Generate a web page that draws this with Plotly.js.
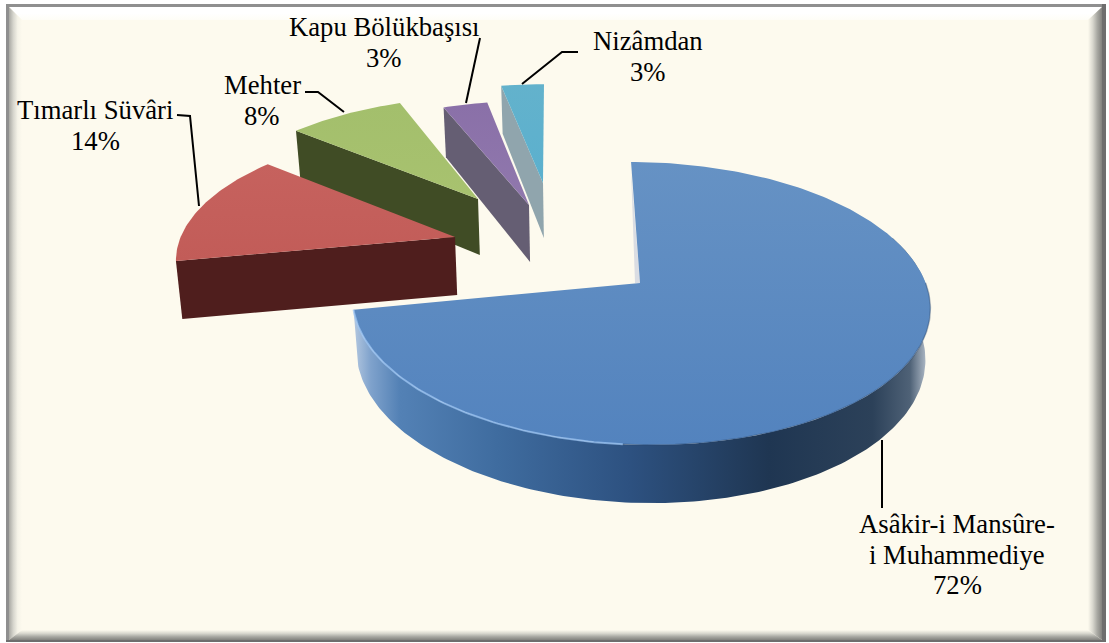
<!DOCTYPE html>
<html><head><meta charset="utf-8">
<script src="https://cdn.plot.ly/plotly-3.0.1.min.js"></script>
<style>html,body{margin:0;padding:0;background:#fff}#c{width:1109px;height:643px}</style>
</head><body><div id="c"></div>
<script>
// ---- data ----
const categories = [["Asâkir-i Mansûre-","i Muhammediye"],["Tımarlı Süvâri"],["Mehter"],["Kapu Bölükbaşısı"],["Nizâmdan"]];
const values = [72,14,8,3,3];

// ---- pie geometry (style, not data): exploded perspective projection of each slice ----
const K=0.145, RX=290, RY=138.5, VANISH=600, VF=0.015;
const geom = [
 {ax:640,ay:283,sx:.985,sy:1,sh:0.074,h:50,hk:0.001,top:['#5383BE','#6692C4'],wall:'#2c4f7d'},
 {ax:455,ay:237,sx:.946,sy:.9,sh:-.086,h:58,hk:0,top:['#C25C58','#C6625E'],wall:'#4F1E1D'},
 {ax:478,ay:199,sx:.919,sy:.845,sh:-.0874,h:56,hk:.0013,top:['#A8C26F','#A3BF6C'],wall:'#404C25'},
 {ax:529,ay:205,sx:.936,sy:.86,sh:-.027,h:57,hk:.0013,top:['#9078AD','#8A70A8'],wall:'#655E73'},
 {ax:543,ay:183,sx:.9,sy:.817,sh:-.01,h:55,hk:.0013,top:['#5BB0CE','#63B2CC'],wall:'#90A5AD'}
];
const labelX = [957,95,262,384,648];
const labelTopY = [524,110,85,27,41];
const lineStep = 30.5;
const leaders = [
 [[882,440],[882,508]],
 [[177,115],[190,116],[199,206]],
 [[305,92],[318,92],[344,112]],
 [[480,38],[466,103]],
 [[578,52],[562,52],[522,84]]
];

// cumulative angles
const total = values.reduce((a,b)=>a+b,0);
let acc=0;
const spans = values.map(v=>{const s=acc; acc+=v; return [s/total*360, acc/total*360];});

function rim(g,deg){
  const t=deg*Math.PI/180,u=Math.sin(t),v=-Math.cos(t),d=1-K*v;
  const Y=g.sy*RY*v/d, X=g.sx*RX*u/d+g.sh*Y;
  return [g.ax+X,g.ay+Y];
}
function drop(g,p){
  return [p[0]+(VANISH-p[0])*VF, p[1]+g.h*(1+g.hk*(p[1]-g.ay))];
}
function arc(g,a,b){
  const pts=[],n=Math.max(2,Math.ceil(Math.abs(b-a)));
  for(let i=0;i<=n;i++)pts.push(rim(g,a+(b-a)*i/n));
  return pts;
}
function poly(pts,name,extra){
  const closed=pts.concat([pts[0]]);
  return Object.assign({type:'scatter',mode:'lines',name:name,x:closed.map(p=>p[0]),y:closed.map(p=>p[1]),
    fill:'toself',line:{width:0},hoverinfo:'skip',showlegend:false},extra);
}
function grad(type,stops){
  return {type:type,colorscale:stops.map((c,i)=>[i/(stops.length-1),c])};
}
function band(pts,type,stops){
  return poly(pts,'frame',{fillcolor:stops[0],fillgradient:grad(type,stops)});
}
const traces=[];
// frame
const L=6,R=1106,T=4,B=642;
traces.push(poly([[L,T],[R,T],[R,B],[L,B]],'panel',{fillcolor:'#FDFAEE'}));
traces.push(band([[9,7],[1102,7],[1088,20],[22,20]],'vertical',['#FEFDF6','#FFFFFF','#FFFFFF']));
traces.push(band([[9,7],[22,20],[22,630],[9,640]],'horizontal',['#A9A9A3','#D6D5CD','#F5F3E8','#FDFAEE']));
traces.push(band([[1102,7],[1088,20],[1088,630],[1102,640]],'horizontal',['#FDFAEE','#D9D8CF','#A8A8A2','#82827E']));
traces.push(band([[22,630],[1088,630],[1102,640],[9,640]],'vertical',['#82827E','#A8A8A2','#D9D8CF','#FDFAEE']));
traces.push(poly([[L,T],[R,T],[R,7],[L,7]],'edge',{fillcolor:'#8F8F8F'}));
traces.push(poly([[L,T],[9,T],[9,B],[L,B]],'edge',{fillcolor:'#8F8F8F'}));
traces.push(poly([[1102,T],[R,T],[R,B],[1102,B]],'edge',{fillcolor:'#6E6E6E'}));
traces.push(poly([[L,640],[R,640],[R,B],[L,B]],'edge',{fillcolor:'#6E6E6E'}));

// slices, back to front
[4,3,2,1].forEach(i=>{
  const g=geom[i],[a,b]=spans[i],apex=[g.ax,g.ay],s=rim(g,a),nm=categories[i].join(' ');
  traces.push(poly([apex,s,drop(g,s),drop(g,apex)],nm+' wall',{fillcolor:g.wall}));
  traces.push(poly([apex].concat(arc(g,a,b)),nm,{fillcolor:g.top[0],fillgradient:grad('vertical',g.top)}));
});
// main slice
{
  const g=geom[0],[a,b]=spans[0],apex=[g.ax,g.ay],nm=categories[0].join(' ');
  const outer=arc(g,70,b);
  const wall=outer.concat(outer.slice().reverse().map(p=>drop(g,p)));
  traces.push(poly(wall,nm+' wall',{fillcolor:g.wall,
    fillgradient:{type:'horizontal',colorscale:[[0,'#B4C8E0'],[.03,'#7FA2CC'],[.08,'#5381B5'],[.25,'#3F6C9F'],[.48,'#2D5180'],[.72,'#1F3652'],[.9,'#2C4159'],[.965,'#4F6277'],[.99,'#A3AFBD'],[1,'#C5CDD6']]}}));
  const s=rim(g,a);
  traces.push(poly([[s[0],s[1]+8],apex,[apex[0]-5,apex[1]]],'cut',{fillcolor:'#DADDE3'}));
  traces.push(poly([apex].concat(arc(g,a,b)),nm,{fillcolor:g.top[0],fillgradient:grad('vertical',g.top)}));
  // rim highlights
  const hl=arc(g,185,b);
  traces.push({type:'scatter',mode:'lines',x:hl.map(p=>p[0]),y:hl.map(p=>p[1]),line:{color:'rgba(160,200,245,.7)',width:2},hoverinfo:'skip',showlegend:false,name:'rim'});
  const dk=arc(g,90,185);
  traces.push({type:'scatter',mode:'lines',x:dk.map(p=>p[0]),y:dk.map(p=>p[1]),line:{color:'rgba(40,65,100,.35)',width:1.5},hoverinfo:'skip',showlegend:false,name:'rim'});
}
// leaders
leaders.forEach((l,i)=>traces.push({type:'scatter',mode:'lines',x:l.map(p=>p[0]),y:l.map(p=>p[1]),
  line:{color:'#000',width:2},hoverinfo:'skip',showlegend:false,name:'leader'}));

const annotations=[];
categories.forEach((c,i)=>{
  c.concat([values[i]+'%']).forEach((t,j)=>annotations.push({
    x:labelX[i],y:labelTopY[i]+j*lineStep,xref:'x',yref:'y',showarrow:false,align:'center',
    xanchor:'center',yanchor:'middle',text:t,
    font:{family:'"Liberation Serif",serif',size:26.7,color:'#000'}
  }));
});
Plotly.newPlot('c',traces,{
  width:1109,height:643,margin:{l:0,r:0,t:0,b:0},paper_bgcolor:'#fff',plot_bgcolor:'rgba(0,0,0,0)',
  xaxis:{range:[0,1109],visible:false,fixedrange:true},
  yaxis:{range:[643,0],visible:false,fixedrange:true},
  showlegend:false,annotations:annotations,hovermode:false
},{displayModeBar:false,staticPlot:true});
</script></body></html>
